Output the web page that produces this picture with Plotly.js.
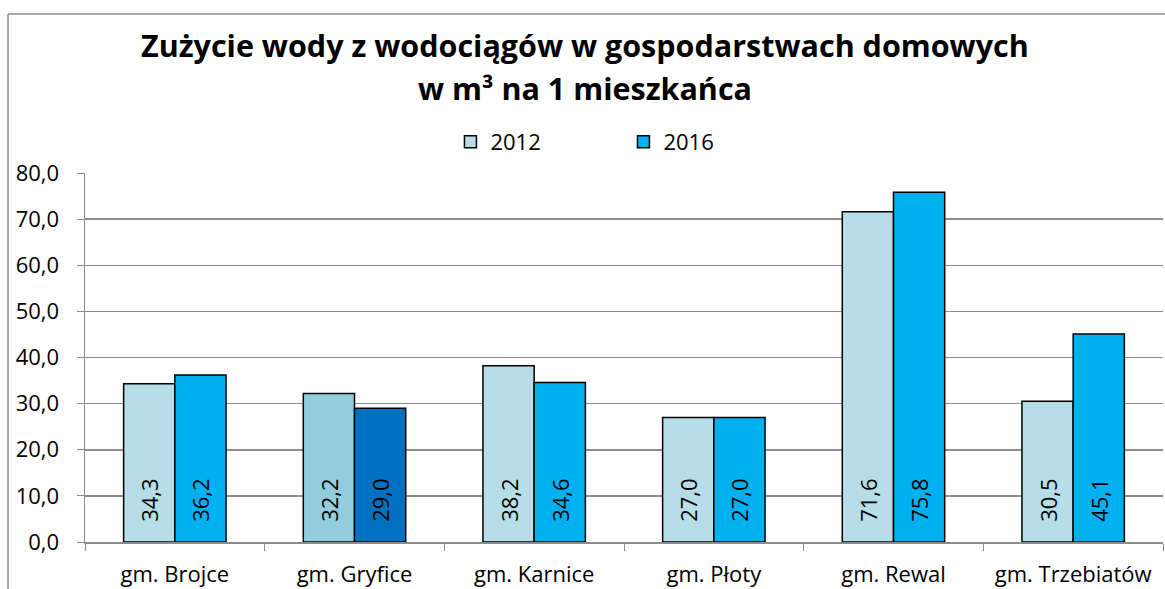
<!DOCTYPE html>
<html><head><meta charset="utf-8">
<script src="https://cdn.plot.ly/plotly-3.0.1.min.js"></script>
<style>body{margin:0;padding:0;background:#fff}#c{width:1165px;height:589px}</style>
</head><body><div id="c"></div>
<script>
const categories = ["gm. Brojce","gm. Gryfice","gm. Karnice","gm. Płoty","gm. Rewal","gm. Trzebiatów"];
const v2012 = [34.3, 32.2, 38.2, 27.0, 71.6, 30.5];
const v2016 = [36.2, 29.0, 34.6, 27.0, 75.8, 45.1];
const colors2012 = ["#B7DEE8","#93CDDD","#B7DEE8","#B7DEE8","#B7DEE8","#B7DEE8"];
const colors2016 = ["#00B0F0","#0070C0","#00B0F0","#00B0F0","#00B0F0","#00B0F0"];
const titleLines = ["Zużycie wody z wodociągów w gospodarstwach domowych", "w m³ na 1 mieszkańca"];
const font = "'Open Sans', sans-serif";
function tr(name, y, cols){
  return {type:'bar', name:name, x:categories, y:y,
    marker:{color:cols, line:{color:'#000', width:1.5}},
    texttemplate:'\u00a0\u00a0\u00a0%{y:.1f}', textposition:'inside', insidetextanchor:'start',
    textangle:-90, textfont:{family:font, size:22, color:'#000'},
    hoverinfo:'none'};
}
const data = [tr('2012', v2012, colors2012), tr('2016', v2016, colors2016)];
const layout = {
  width:1165, height:589,
  margin:{l:85, r:2, t:173, b:47},
  separators:', ',
  paper_bgcolor:'#fff', plot_bgcolor:'#fff',
  font:{family:font, size:22, color:'#000'},
  showlegend:true,
  legend:{orientation:'h', x:0.339, xanchor:'left', y:1.084, yanchor:'middle',
    font:{family:font, size:22, color:'#000'}, entrywidth:128, entrywidthmode:'pixels', itemwidth:30, traceorder:'normal'},
  barmode:'group', bargap:0.43, bargroupgap:0,
  xaxis:{type:'category', showline:true, linecolor:'#8c8c8c', linewidth:1.5,
    ticks:'outside', ticklen:7, tickcolor:'#8c8c8c', tickson:'boundaries', ticklabelstandoff:12,
    tickfont:{family:font, size:22, color:'#000'}, showgrid:false, fixedrange:true},
  yaxis:{range:[0,80], dtick:10, tickformat:'.1f', showline:true, linecolor:'#8c8c8c', linewidth:1.5,
    ticks:'outside', ticklen:7, tickcolor:'#8c8c8c', gridcolor:'#8c8c8c', gridwidth:1.5, ticklabelstandoff:13,
    tickfont:{family:font, size:22, color:'#000'}, zeroline:false, fixedrange:true},
  annotations:[
    {text:'<b>'+titleLines[0]+'</b>', xref:'paper', yref:'paper', x:0.464, y:1.3469, xanchor:'center', yanchor:'middle', showarrow:false, font:{family:font, size:30.5, color:'#000'}},
    {text:'<b>'+titleLines[1]+'</b>', xref:'paper', yref:'paper', x:0.464, y:1.2300, xanchor:'center', yanchor:'middle', showarrow:false, font:{family:font, size:30.5, color:'#000'}}
  ],
  shapes:[
    {type:'line', xref:'paper', yref:'paper', x0:-0.0714, x1:-0.0714, y0:-0.2, y1:1.431, line:{color:'#8c8c8c', width:1.5}},
    {type:'line', xref:'paper', yref:'paper', x0:-0.0714, x1:1.01, y0:1.431, y1:1.431, line:{color:'#8c8c8c', width:1.5}}
  ]
};
Plotly.newPlot('c', data, layout, {displayModeBar:false, staticPlot:true});
</script></body></html>
